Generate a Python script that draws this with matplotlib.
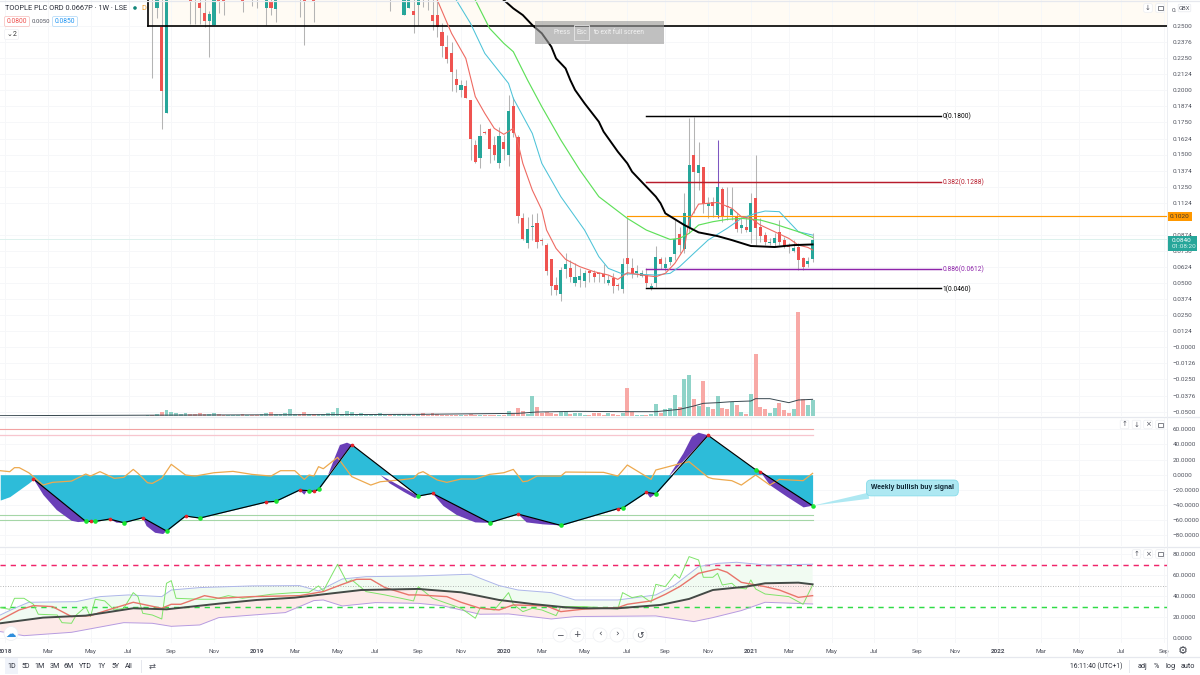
import matplotlib
matplotlib.use("Agg")
import matplotlib.pyplot as plt
from matplotlib.patches import Rectangle, FancyBboxPatch, Circle

plt.rcParams['font.family'] = ['Roboto', 'DejaVu Sans']

# weekly candles, x is weeks since Jan 2018
candle_weeks = [31, 32, 33, 34, 39, 40, 41, 42, 43, 44, 45, 46, 50, 52, 53, 55, 56, 57, 62, 63, 65, 81] + list(range(84, 171))
opens = [.2850, .2640, .2489, .1820, .2750, .2780, .2681, .2598, .2541, .2507, .2760, .2750, .2760, .2800, .2800, .2640,
         .2694, .2629, .2800, .2760, .2760, .2800,
         .2588, .2640, .2616, .2666, .2850, .2850, .2588, .2588, .2456, .2339, .2292, .2090, .2002, .2035, .1924, .1574,
         .1472, .1675, .1696, .1576, .1436, .1600, .1496, .1880, .1638, .1008, .0808, .0933, .0969, .0837, .0795, .0686,
         .0487, .0414, .0606, .0614, .0502, .0523, .0518, .0590, .0580, .0575, .0570, .0502, .0541, .0487, .0450, .0697,
         .0619, .0575, .0554, .0565, .0461, .0497, .0686, .0619, .0660, .0725, .0881, .0762, .0938, .1496, .1358, .1405,
         .1101, .1127, .1029, .1231, .1096, .1029, .1021, .0930, .0938, .0899, .1159, .0933, .0873, .0808, .0808, .0894,
         .0834, .0790, .0751, .0782, .0692, .0648, .0686]
highs = [.3000, .2950, .2800, .3000, .2850, .2850, .2800, .2750, .2619, .2900, .2850, .2850, .2850, .2900, .2900, .2950,
         .2800, .2900, .2900, .2850, .2850, .2900,
         .2850, .2900, .2800, .2900, .2900, .2900, .2800, .2800, .2520, .2430, .2378, .2162, .2079, .2079, .1924, .1613,
         .1737, .1685, .1706, .1644, .1716, .1651, .1963, .1950, .1651, .1042, .1016, .1034, .1042, .0847, .0808, .0686,
         .0549, .0627, .0731, .0679, .0653, .0614, .0601, .0601, .0601, .0588, .0645, .0562, .0575, .0497, .0692, .1016,
         .0692, .0640, .0601, .0614, .0497, .0788, .0705, .0705, .0705, .0990, .0938, .1197, .1781, .1789, .1594, .1405,
         .1172, .1172, .1613, .1249, .1249, .1249, .1042, .1016, .1016, .1197, .1496, .1003, .0899, .0847, .0886, .0990,
         .0860, .0808, .0834, .0808, .0705, .0705, .0886]
lows = [.2092, .2559, .1696, .1820, .2515, .2515, .2515, .2494, .2261, .2507, .2603, .2588, .2609, .2655, .2637, .2507,
        .2588, .2531, .2572, .2352, .2531, .2616,
        .2588, .2640, .2443, .2507, .2650, .2624, .2469, .2417, .2261, .2214, .1996, .1989, .1945, .1937, .1457, .1431,
        .1397, .1659, .1431, .1457, .1397, .1457, .1410, .1638, .0964, .0834, .0769, .0834, .0769, .0795, .0562, .0406,
        .0406, .0362, .0536, .0510, .0476, .0471, .0471, .0510, .0510, .0510, .0497, .0484, .0419, .0445, .0419, .0562,
        .0536, .0549, .0544, .0466, .0445, .0471, .0606, .0596, .0640, .0679, .0731, .0731, .0886, .1042, .1223, .1042,
        .1003, .1016, .1003, .0977, .0990, .0990, .0899, .0886, .0899, .0808, .0795, .0821, .0795, .0795, .0782, .0795,
        .0769, .0731, .0743, .0601, .0601, .0627, .0666]
closes = [.2830, .2850, .1991, .2900, .2689, .2750, .2640, .2541, .2593, .2800, .2689, .2692, .2689, .2780, .2780, .2850,
          .2640, .2800, .2780, .2689, .2689, .2780,
          .2750, .2800, .2588, .2800, .2830, .2830, .2541, .2489, .2344, .2240, .2142, .2041, .2043, .1942, .1620, .1441,
          .1644, .1670, .1543, .1493, .1644, .1543, .1841, .1664, .1021, .0842, .0923, .0946, .0819, .0829, .0596, .0476,
          .0445, .0598, .0648, .0549, .0549, .0557, .0575, .0575, .0549, .0570, .0549, .0523, .0476, .0479, .0648, .0645,
          .0570, .0596, .0580, .0497, .0476, .0699, .0648, .0648, .0699, .0845, .0795, .1042, .1418, .1366, .1421, .1114,
          .1120, .1101, .1244, .1016, .1089, .1073, .0917, .0951, .0912, .1120, .0925, .0865, .0821, .0821, .0847, .0821,
          .0788, .0777, .0769, .0679, .0627, .0673, .0834]

# moving averages on the price pane
red_weeks = [88, 91, 94, 97, 99, 101, 103, 105, 107, 108, 109, 111, 113, 114, 116, 118, 121, 124, 127, 129, 131, 134, 137,
             139, 141, 143, 144, 146, 150, 153, 155, 157, 159, 162, 165, 167, 169, 170]
red_ma = [.2858, .2702, .2443, .2248, .1950, .1820, .1703, .1657, .1703, .1587, .1431, .1223, .1068, .0912, .0769, .0684,
          .0627, .0588, .0562, .0528, .0580, .0562, .0549, .0575, .0653, .0769, .0990, .1114, .1127, .1081, .1016, .1003,
          .0951, .0899, .0847, .0795, .0777, .0757]
blue_weeks = [93, 95, 98, 101, 106, 107, 111, 113, 117, 122, 125, 127, 130, 132, 137, 140, 142, 145, 148, 152, 155, 158,
              160, 163, 165, 167, 170]
blue_ma = [.2850, .2702, .2520, .2287, .2053, .1937, .1664, .1431, .1172, .0912, .0705, .0614, .0570, .0570, .0562, .0575,
           .0627, .0731, .0834, .0925, .1003, .1042, .1060, .1055, .0977, .0899, .0873]
green_weeks = [96, 99, 102, 105, 107, 110, 113, 117, 121, 125, 131, 135, 140, 142, 144, 146, 149, 152, 155, 159, 162, 167, 170]
green_ma = [.2900, .2702, .2482, .2365, .2300, .2079, .1872, .1613, .1379, .1172, .1003, .0912, .0839, .0847, .0886, .0951,
            .0977, .0995, .1003, .0990, .0959, .0899, .0855]
black_weeks = [100, 105, 107, 109, 111, 113, 115, 116, 118, 119, 120, 122, 125, 126, 129, 131, 132, 134, 137, 138, 139, 143,
               146, 150, 153, 157, 162, 166, 170]
black_ma = [.2850, .2702, .2637, .2585, .2507, .2443, .2339, .2248, .2170, .2079, .2002, .1898, .1755, .1678, .1522, .1431,
            .1366, .1288, .1172, .1120, .1042, .0951, .0894, .0865, .0834, .0788, .0780, .0795, .0800]

# volume, arbitrary units
vol_weeks = list(range(30, 171))
volume = [3, 3, 6, 12, 18, 12, 9, 6, 9, 6, 6, 9, 6, 6, 9, 6, 3, 3, 3, 3, 6, 3, 3, 3, 6, 9, 12, 6, 6, 9, 21, 6, 6, 12, 6, 6, 6,
          6, 9, 12, 24, 6, 15, 12, 6, 9, 3, 6, 6, 9, 3, 3, 6, 6, 6, 6, 3, 6, 8, 3, 10, 5, 4, 4, 4, 4, 4, 4, 6, 4, 4, 4, 4, 4,
          4, 4, 14, 5, 23, 16, 6, 60, 28, 9, 12, 8, 6, 12, 12, 5, 8, 8, 3, 3, 10, 10, 3, 10, 5, 3, 10, 83, 12, 3, 3, 3, 5, 35,
          8, 22, 25, 62, 28, 111, 122, 52, 30, 105, 27, 20, 59, 25, 22, 42, 32, 12, 5, 66, 185, 28, 20, 10, 25, 38, 17, 8, 20,
          311, 50, 33, 48]
vol_ma_weeks = [-1, 87, 108, 112, 120, 131, 137, 142, 145, 147, 150, 153, 157, 158, 161, 165, 167, 170]
vol_ma = [1, 5, 8, 12, 14, 13, 13, 20, 30, 38, 40, 43, 45, 52, 52, 40, 48, 50]

# oscillator pane
zig_weeks = [6, 17, 18, 19, 22, 25, 29, 34, 38, 41, 55, 57, 62, 64, 65, 66, 73, 87, 90, 102, 108, 117, 129, 130, 135, 137, 148, 158, 159, 170]
zig_vals = [-5.7, -61.7, -61.7, -61.7, -58.6, -63.4, -56.8, -74.4, -54.6, -57.3, -36.1, -35.2, -20.3, -21.1, -22.0, -19.4, 39.6,
            -28.2, -24.7, -63.4, -52.0, -67.0, -44.9, -44.1, -23.3, -25.1, 52.0, 6.6, 4.0, -41.0]
wave_lead_weeks = [-1, 1, 3, 5]
wave_lead_vals = [-33.5, -29, -20, -11]
peak_weeks = [6, 18, 22, 29, 38, 55, 62, 65, 73, 90, 108, 129, 135, 148, 159]
trough_weeks = [17, 19, 25, 34, 41, 57, 64, 66, 87, 102, 117, 130, 137, 158, 170]
purple_shapes = [
    ([6, 8.1, 10.9, 14, 15.4, 17], [-5.7, -26.9, -46.7, -60.8, -62.6, -61.7]),
    ([22, 23.5, 25], [-58.6, -63.4, -63.4]),
    ([29, 29.8, 31.6, 33.3, 34], [-56.8, -67.8, -76.7, -78.4, -74.4]),
    ([62, 63, 63.5], [-20.3, -26.4, -22.0]),
    ([68, 69.5, 70.5, 72, 73], [-0.4, 23.8, 39.2, 42.3, 39.6]),
    ([79, 81, 83.9, 86.3, 87], [-0.4, -11.5, -22.5, -30.8, -28.2]),
    ([90, 92.3, 95.1, 99, 100.7, 102], [-24.7, -41.4, -53.3, -63.0, -63.4, -63.4]),
    ([108, 109.8, 113.3, 117], [-52.0, -63.0, -65.6, -67.0]),
    ([135, 135.8, 137], [-23.3, -30.4, -25.1]),
    ([139.7, 142.8, 144.6, 146, 148], [-2.6, 28.2, 50.2, 55.5, 52.0]),
    ([159, 161, 164.6, 168.1, 170], [4.0, -13.7, -29.1, -43.2, -41.0]),
]
osc_weeks = [-1, 1, 2, 3, 5, 6, 8, 10, 14, 17, 18, 20, 23, 25, 27, 28, 30, 31, 33, 35, 38, 40, 44, 48, 52, 56, 58, 61, 63, 64,
             65, 66, 67, 70, 73, 77, 79, 83, 86, 87, 88, 91, 93, 96, 99, 102, 105, 107, 109, 110, 112, 117, 118, 126, 129,
             131, 136, 137, 141, 144, 148, 149, 153, 155, 158, 161, 163, 168, 170]
osc_line = [5.3, 4.0, 9.3, 9.3, 2.6, -2.6, -13.7, -10.1, -8.4, 0.9, -1.8, 4.0, -4.8, -3.5, 7.0, 1.8, -10.6, -11.5, -4.8, 13.7,
            -0.4, -1.8, 2.6, 4.4, 0.4, -1.8, 5.3, 5.3, -6.2, -0.4, -1.8, 10.6, 7.9, 22.9, -2.6, -13.7, -9.3, -7.0, -4.8, 1.8,
            4.0, -7.0, -10.1, -5.7, -5.7, 0.4, 2.6, 7.0, -9.3, -8.4, -1.8, -1.8, 3.5, 3.1, -1.8, 12.8, -6.2, 6.2, 12.8, 17.2,
            -3.5, -5.3, -7.9, -13.7, -0.4, -13.7, -6.2, -7.9, 1.8]

# RSI pane
rsi_weeks = [-1, 1, 2, 4, 6, 7, 11, 12, 14, 15, 17, 18, 19, 21, 23, 25, 27, 28, 29, 31, 33, 34, 35, 36, 41, 44, 47, 50, 56, 61,
             64, 66, 67, 70, 72, 73, 76, 80, 86, 87, 90, 96, 99, 100, 103, 104, 106, 107, 109, 111, 113, 116, 117, 122, 129,
             130, 132, 134, 136, 137, 139, 141, 142, 144, 146, 147, 149, 150, 151, 153, 154, 156, 157, 158, 160, 165, 168, 170]
rsi = [29.2, 27.6, 38.1, 38.1, 32.4, 22.9, 22.2, 14.9, 14.3, 22.2, 30.2, 20.7, 37.2, 35.6, 27.0, 28.6, 43.5, 39.7, 23.8, 22.2,
       18.4, 52.4, 54.9, 38.1, 37.2, 37.2, 40.6, 38.1, 41.9, 43.5, 43.8, 49.9, 45.1, 70.5, 53.3, 55.6, 44.5, 41.3, 35.6, 49.2,
       38.1, 28.6, 19.1, 28.6, 27.0, 32.4, 43.5, 32.4, 25.4, 28.6, 27.0, 21.6, 30.2, 30.2, 27.9, 43.5, 38.7, 40.6, 34.3, 51.4,
       49.2, 61.0, 57.2, 77.8, 74.6, 58.1, 58.1, 61.9, 50.8, 52.4, 48.3, 47.0, 55.6, 47.0, 42.2, 39.7, 32.4, 50.8]
rsi_ma_weeks = [-1, 3, 6, 10, 14, 18, 21, 27, 33, 35, 37, 42, 45, 52, 62, 67, 71, 74, 77, 80, 85, 87, 93, 96, 100, 104, 107, 114,
                117, 122, 129, 131, 136, 139, 142, 146, 150, 152, 155, 160, 163, 167, 170]
rsi_ma = [17.5, 27.0, 31.1, 30.2, 20.7, 21.6, 26.0, 34.3, 28.6, 32.4, 32.4, 40.6, 38.1, 39.7, 40.6, 44.5, 51.4, 56.2, 56.2, 48.3,
          41.3, 41.3, 39.7, 34.3, 28.6, 27.0, 31.8, 30.8, 25.4, 27.9, 29.2, 32.4, 35.6, 41.9, 49.2, 61.9, 66.0, 62.9, 53.3, 49.2,
          46.0, 39.0, 40.6]
rsi_long_weeks = [-1, 8, 17, 27, 34, 45, 53, 61, 69, 75, 87, 96, 104, 111, 118, 122, 129, 138, 144, 149, 156, 160, 167, 170]
rsi_long = [14.3, 19.7, 21.6, 28.6, 27.6, 33.0, 36.5, 38.7, 42.9, 46.0, 47.0, 43.8, 36.5, 32.7, 29.5, 28.6, 28.6, 31.8, 37.5, 46.0,
            49.2, 52.4, 53.0, 51.4]
upper_weeks = [-1, 2, 5, 15, 20, 26, 33, 35, 41, 52, 62, 66, 71, 76, 87, 98, 100, 104, 108, 115, 120, 129, 137, 141, 146, 150, 154, 160, 170]
upper_band = [22.2, 28.6, 34.3, 34.9, 39.7, 41.3, 39.7, 46.0, 48.3, 49.9, 50.2, 45.1, 56.5, 58.7, 59.4, 61.0, 57.2, 50.2, 46.0, 43.5,
              36.5, 36.5, 41.3, 50.8, 68.3, 71.4, 72.4, 69.9, 70.5]
lower_weeks = [-1, 4, 14, 25, 31, 35, 41, 45, 59, 62, 65, 67, 71, 78, 87, 92, 100, 106, 115, 120, 137, 145, 149, 155, 160, 170]
lower_band = [6.4, 2.5, 5.7, 14.9, 14.3, 11.4, 12.7, 19.7, 24.5, 30.2, 35.9, 36.5, 30.8, 34.0, 33.3, 31.1, 22.9, 23.2, 18.4, 20.7,
              21.3, 15.9, 19.7, 26.4, 34.3, 32.7]

# axes labels
tick_weeks = [0, 9, 18, 26, 35, 44, 53, 61, 70, 78, 87, 96, 105, 113, 122, 131, 139, 148, 157, 165, 174, 183, 192, 200, 209, 218, 226, 235, 244]
tick_names = ['2018', 'Mar', 'May', 'Jul', 'Sep', 'Nov', '2019', 'Mar', 'May', 'Jul', 'Sep', 'Nov', '2020', 'Mar', 'May', 'Jul',
              'Sep', 'Nov', '2021', 'Mar', 'May', 'Jul', 'Sep', 'Nov', '2022', 'Mar', 'May', 'Jul', 'Sep']
price_ticks = [.25, .2376, .225, .2124, .2, .1874, .175, .1624, .15, .1374, .125, .1124, .0874, .0750, .0624, .05, .0374, .025,
               .0124, -.00001, -.0126, -.025, -.0376, -.05]
osc_ticks = [60, 40, 20, 0, -20, -40, -60, -80]
rsi_ticks = [80, 60, 40, 20, 0]

# fib levels: value, label, colour
fib_levels = [.18, .1288, .0612, .046]
fib_labels = ['0(0.1800)', '0.382(0.1288)', '0.886(0.0612)', '1(0.0460)']
fib_colors = ['black', '#b71c2c', '#8e24aa', 'black']

UP = '#26a69a'
DOWN = '#ef5350'
GRID = '#f6f7f9'
TXT = '#50535e'
W = 1200.0
H = 675.0
XMIN = -1.05
XMAX = 244.6


def pane(top, bottom, left=0, right=1167):
    a = fig.add_axes([left / W, 1 - bottom / H, (right - left) / W, (bottom - top) / H])
    a.set_xlim(XMIN, XMAX)
    for s in a.spines.values():
        s.set_visible(False)
    a.yaxis.tick_right()
    a.set_xticks(tick_weeks)
    a.tick_params(length=0, labelsize=4.6, labelcolor=TXT, pad=4.2)
    a.tick_params(axis='x', labelbottom=False)
    a.grid(color=GRID, lw=0.7)
    a.set_axisbelow(True)
    return a


def num_label(v):
    return ('\u2212' if v < 0 else '') + '%.4f' % abs(v)


fig = plt.figure(figsize=(12, 6.75), dpi=100, facecolor='white')

# price pane
ax = pane(0, 416)
ax.set_ylim(.25 - (416 - 26) / 1285, .25 + 26 / 1285)
ax.set_yticks(price_ticks)
ax.set_yticklabels([num_label(v) for v in price_ticks])

ax.add_patch(Rectangle((30.15, .25), XMAX, .05, fc='#fffbf4', ec='none', zorder=0.5))
ax.plot([30.1, XMAX], [.25, .25], color='black', lw=1.2, zorder=4)
ax.plot([30.1, 30.1], [.25, .30], color='black', lw=1.2, zorder=4)

ax.axhline(.084, color='#dcf1ed', lw=0.7, zorder=1)
ax.plot([131, XMAX], [.102, .102], color='#ff9800', lw=0.85, zorder=4)

wick_colors = ['#7e57c2' if w == 150 else '#b4b4b4' for w in candle_weeks]
ax.vlines(candle_weeks, lows, highs, colors=wick_colors, lw=0.75, zorder=2)
body_colors = [UP if c >= o else DOWN for o, c in zip(opens, closes)]
ax.bar(candle_weeks, [max(abs(c - o), .0006) for o, c in zip(opens, closes)],
       bottom=[min(o, c) for o, c in zip(opens, closes)], width=0.66, color=body_colors, zorder=3)

ax.plot(blue_weeks, blue_ma, color='#4dc3d8', lw=0.75, zorder=5)
ax.plot(green_weeks, green_ma, color='#5fe05a', lw=0.85, zorder=5)
ax.plot(red_weeks, red_ma, color='#ee6a62', lw=0.8, zorder=5)
ax.plot(black_weeks, black_ma, color='black', lw=1.4, zorder=6)

for v, lab, col in zip(fib_levels, fib_labels, fib_colors):
    ax.plot([135, 197], [v, v], color=col, lw=1.05, zorder=4)
    ax.text(197.3, v, lab, color=col, fontsize=4.8, va='center_baseline', ha='left')

# volume sits in the lower part of the price pane
vax = pane(311, 416)
vax.patch.set_alpha(0)
vax.grid(False)
vax.set_yticks([])
vax.set_ylim(0, 315)
candle_up = dict(zip(candle_weeks, [c >= o for o, c in zip(opens, closes)]))
vol_colors = ['#8fd3c8' if candle_up.get(w, True) else '#f8a9a6' for w in vol_weeks]
vax.bar(vol_weeks, volume, width=0.82, color=vol_colors)
vax.plot(vol_ma_weeks, vol_ma, color='#37474f', lw=0.7)

# oscillator pane
ax2 = pane(418, 546)
ax2.set_ylim((474.7 - 546) / .757, (474.7 - 418) / .757)
ax2.set_yticks(osc_ticks)
ax2.set_yticklabels([num_label(v) for v in osc_ticks])
ax2.plot([XMIN, 170], [60, 60], color='#f2a3a3', lw=0.8)
ax2.plot([XMIN, 170], [52.8, 52.8], color='#f7c6cf', lw=0.9)
ax2.plot([XMIN, 170], [-53.7, -53.7], color='#a5d6a7', lw=0.8)
ax2.plot([XMIN, 170], [-60.4, -60.4], color='#a5d6a7', lw=0.8)
ax2.fill_between(wave_lead_weeks + zig_weeks, wave_lead_vals + zig_vals, 0, color='#2dbcd9', lw=0, zorder=2)
for xs, ys in purple_shapes:
    ax2.fill(xs, ys, color='#6a3fb8', lw=0, zorder=3)
ax2.plot(osc_weeks, osc_line, color='#eda94e', lw=0.9, zorder=4)
ax2.plot(zig_weeks, zig_vals, color='black', lw=0.85, zorder=5)
zig = dict(zip(zig_weeks, zig_vals))
ax2.scatter(peak_weeks, [zig[w] for w in peak_weeks], s=7, color='#e5232a', lw=0, zorder=6)
ax2.scatter(trough_weeks, [zig[w] for w in trough_weeks], s=11, color='#17e52f', lw=0, zorder=6)
ax2.annotate('Weekly bullish buy signal', xy=(170, -41), xytext=(191, -17.5), fontsize=4.9, fontweight='bold',
             family=['Liberation Sans', 'DejaVu Sans'], color='#0b2230', ha='center', va='center', zorder=8,
             bbox=dict(boxstyle='round,pad=0.65', fc='#aee8f2', ec='#86dcea', lw=0.6),
             arrowprops=dict(arrowstyle='wedge,tail_width=0.9,shrink_factor=0.5', fc='#aee8f2', ec='none', shrinkA=0, shrinkB=0))

# RSI pane
ax3 = pane(547, 643)
ax3.set_ylim((638.3 - 643) / 1.05, (638.3 - 547) / 1.05)
ax3.set_yticks(rsi_ticks)
ax3.set_yticklabels([num_label(v) for v in rsi_ticks])
ax3.fill(upper_weeks + rsi_long_weeks[::-1], upper_band + rsi_long[::-1], color='#f1fbf2', lw=0, zorder=1)
ax3.fill(lower_weeks + rsi_long_weeks[::-1], lower_band + rsi_long[::-1], color='#fdeae8', lw=0, zorder=1)
ax3.plot([XMIN, XMAX], [70, 70], color='#f0246a', lw=1.05, dashes=(3.6, 3.4), zorder=2)
ax3.plot([XMIN, XMAX], [50, 50], color='#9e9e9e', lw=0.6, dashes=(1, 2), zorder=2)
ax3.plot([XMIN, XMAX], [30, 30], color='#2fdc45', lw=1.05, dashes=(3.6, 3.4), zorder=2)
ax3.plot(upper_weeks, upper_band, color='#aeb6ea', lw=0.7, zorder=3)
ax3.plot(lower_weeks, lower_band, color='#b79be0', lw=0.7, zorder=3)
ax3.plot(rsi_weeks, rsi, color='#7fe46a', lw=0.7, zorder=4)
ax3.plot(rsi_ma_weeks, rsi_ma, color='#e8746a', lw=1.0, zorder=5)
ax3.plot(rsi_long_weeks, rsi_long, color='#434a46', lw=1.4, zorder=6)

# time axis labels
ax3.set_xticks(tick_weeks)
ax3.set_xticklabels(tick_names)
ax3.tick_params(axis='x', labelbottom=True, pad=4.5, labelsize=4.6)
for lab in ax3.get_xticklabels():
    if lab.get_text().startswith('20'):
        lab.set_fontweight('bold')

# screen furniture, laid out in screen pixels
ui = fig.add_axes([0, 0, 1, 1], zorder=20)
ui.set_xlim(0, W)
ui.set_ylim(H, 0)
ui.axis('off')
ui.patch.set_alpha(0)
for y in [417, 546.5, 657]:
    ui.plot([0, W], [y, y], color='#e6e8ee', lw=0.9)
ui.plot([1167, 1167], [0, 657], color='#eceef2', lw=0.7)
ui.plot([0, W], [0.5, 0.5], color='#e6e8ee', lw=0.9)

ui.text(5, 8, 'TOOPLE PLC ORD 0.0667P \u00b7 1W \u00b7 LSE', fontsize=5.3, color='#2b2f3a', va='center')
ui.add_patch(Circle((135, 8), 1.8, fc='#12867a', ec='none'))
ui.text(141, 8, 'D', fontsize=5.3, color='#f0a030', va='center')
ui.add_patch(FancyBboxPatch((5, 17), 24, 9, boxstyle='round,pad=0.5,rounding_size=1.5', fc='white', ec='#f7c6c4', lw=0.6))
ui.text(17, 21.5, '0.0800', fontsize=4.9, color='#ef5350', ha='center', va='center')
ui.text(41, 21.5, '0.0050', fontsize=4.3, color='#50535e', ha='center', va='center')
ui.add_patch(FancyBboxPatch((53, 17), 24, 9, boxstyle='round,pad=0.5,rounding_size=1.5', fc='white', ec='#b9dcf7', lw=0.6))
ui.text(65, 21.5, '0.0850', fontsize=4.9, color='#2196f3', ha='center', va='center')
ui.add_patch(FancyBboxPatch((5, 30), 13, 9, boxstyle='round,pad=0.5,rounding_size=1.5', fc='white', ec='#eeeff3', lw=0.5))
ui.text(9, 34, '\u2304', fontsize=5, color='#333333', ha='center', va='center', family=['DejaVu Sans'])
ui.text(15, 34.5, '2', fontsize=5, color='#333333', ha='center', va='center')

ui.add_patch(Rectangle((535, 21), 129, 23, fc='#9a9a9a', ec='none', alpha=0.62))
ui.text(562, 32.5, 'Press', fontsize=4.9, color='#f2f2f2', ha='center', va='center')
ui.add_patch(Rectangle((574, 25), 15, 15, fc='none', ec='#e8e8e8', lw=0.6))
ui.text(581.5, 32.5, 'Esc', fontsize=4.9, color='#f2f2f2', ha='center', va='center')
ui.text(619, 32.5, 'to exit full screen', fontsize=4.9, color='#f2f2f2', ha='center', va='center')

# price tags on the right axis
ui.add_patch(Rectangle((1167, 212), 25, 9, fc='#ff9800', ec='none'))
ui.text(1180, 216.7, '0.1020', fontsize=4.6, color='#40362a', ha='center', va='center')
ui.add_patch(Rectangle((1167, 236), 30, 15, fc='#26a69a', ec='none'))
ui.text(1172, 240, '0.0840', fontsize=4.6, color='white', va='center')
ui.text(1172, 247, '01:08:20', fontsize=4.6, color='#d8f2ee', va='center')
ui.text(1172, 11, '0.', fontsize=4.6, color=TXT, va='center')
ui.add_patch(FancyBboxPatch((1179, 5), 11, 6, boxstyle='round,pad=0.8,rounding_size=1.5', fc='white', ec='#e6e8ee', lw=0.5))
ui.text(1184.5, 8, 'GBX', fontsize=4.2, color=TXT, ha='center', va='center')

# pane buttons
for x, y, s in [(1148, 8, '\u2193'), (1160, 8, ''),
                (1124.5, 424.5, '\u2191'), (1136.5, 424.5, '\u2193'), (1148, 424.5, '\u00d7'), (1160, 424.5, ''),
                (1136.5, 554, '\u2191'), (1148, 554, '\u00d7'), (1160, 554, '')]:
    ui.add_patch(FancyBboxPatch((x - 4, y - 4), 8, 8, boxstyle='round,pad=0.3,rounding_size=1.5', fc='white', ec='#eceef2', lw=0.5))
    if s:
        ui.text(x, y, s, fontsize=5, color='#50535e', ha='center', va='center', family=['DejaVu Sans'])
    else:
        ui.add_patch(Rectangle((x - 2.5, y - 2), 5, 4, fc='none', ec='#50535e', lw=0.5))

# zoom buttons over the RSI pane
for x, s in [(560, '\u2212'), (577, '+'), (600, '\u2039'), (617, '\u203a'), (640, '\u21ba')]:
    ui.add_patch(Circle((x, 635), 7, fc='white', ec='#f0f1f4', lw=0.6))
    ui.text(x, 634.6, s, fontsize=6.5, color='#40434d', ha='center', va='center', family=['DejaVu Sans'])
ui.add_patch(Circle((11, 633.5), 7, fc='white', ec='#eef0f3', lw=0.6))
ui.text(11, 633.5, '\u2601', fontsize=7.5, color='#2f8fdc', ha='center', va='center', family=['DejaVu Sans'])
ui.text(1183, 650.5, '\u2699', fontsize=8, color='#40434d', ha='center', va='center', family=['DejaVu Sans'])

# bottom toolbar
ui.add_patch(Rectangle((5, 658), 13, 16, fc='#f0f3fa', ec='none'))
for x, s in [(11.5, '1D'), (25.5, '5D'), (40, '1M'), (54.5, '3M'), (69, '6M'), (85.5, 'YTD'), (101.5, '1Y'), (115, '5Y'), (129, 'All')]:
    ui.text(x, 666, s, fontsize=5.0, color='#2b2f3a', ha='center', va='center')
ui.plot([141, 141], [660, 672], color='#e6e8ee', lw=0.7)
ui.text(152.5, 666, '\u21c4', fontsize=6, color='#50535e', ha='center', va='center', family=['DejaVu Sans'])
ui.text(1096, 666, '16:11:40 (UTC+1)', fontsize=4.9, color='#2b2f3a', ha='center', va='center')
ui.plot([1129, 1129], [660, 672], color='#e6e8ee', lw=0.7)
for x, s in [(1142, 'adj'), (1156, '%'), (1170.5, 'log'), (1188, 'auto')]:
    ui.text(x, 666, s, fontsize=5.2, color='#2b2f3a', ha='center', va='center')

fig.savefig('out.png', dpi=100)
